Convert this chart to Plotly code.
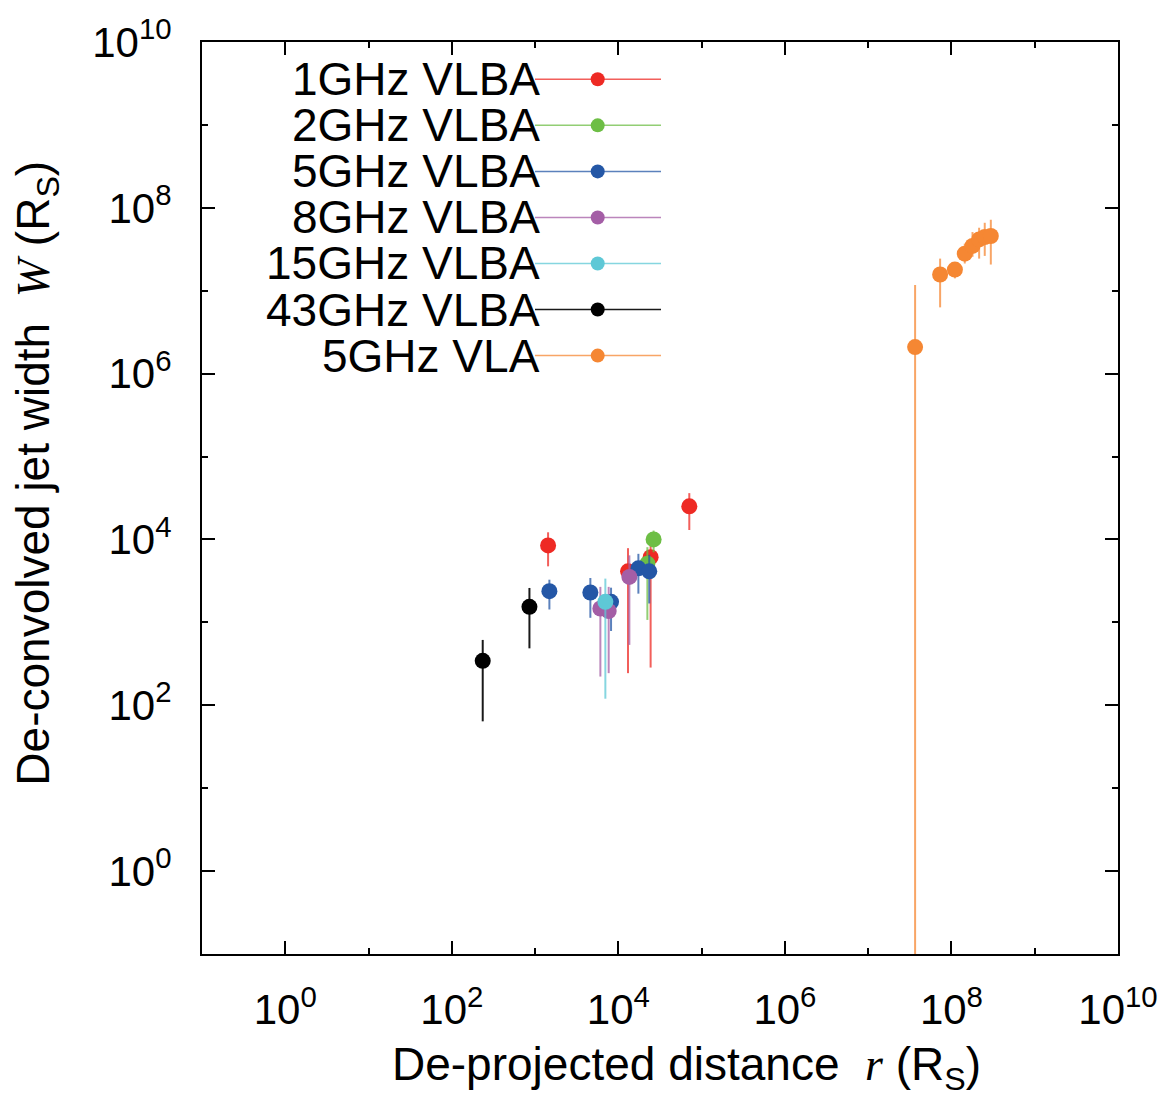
import plotly.graph_objects as go

# ---------------- data ----------------
series_names = ["1GHz VLBA", "2GHz VLBA", "5GHz VLBA", "8GHz VLBA",
                "15GHz VLBA", "43GHz VLBA", "5GHz VLA"]
series_colors = ["#EE2A24", "#6DBE45", "#2457A6", "#A45EA6",
                 "#5EC8D6", "#000000", "#F58733"]
errbar_colors = ["rgba(238,42,36,0.75)", "rgba(109,190,69,0.75)", "rgba(36,87,166,0.75)",
                 "rgba(164,94,166,0.75)", "rgba(94,200,214,0.75)", "rgba(0,0,0,0.9)",
                 "rgba(245,135,51,0.75)"]

# 1 GHz VLBA
r_1ghz = [1432, 13060, 24400, 71100]
w_1ghz = [8470, 4130, 6120, 25100]
w_1ghz_hi = [12200, 7850, 8470, 36200]
w_1ghz_lo = [4740, 244, 285, 13000]

# 2 GHz VLBA
r_2ghz = [22300, 26500]
w_2ghz = [5090, 10000]
w_2ghz_hi = [8070, 12800]
w_2ghz_lo = [1070, 7000]

# 5 GHz VLBA
r_5ghz = [1485, 4610, 8170, 17400, 23500]
w_5ghz = [2380, 2290, 1770, 4490, 4130]
w_5ghz_hi = [3270, 3430, 2620, 6710, 6530]
w_5ghz_lo = [1430, 1135, 787, 2220, 1690]

# 8 GHz VLBA
r_8ghz = [6080, 7650, 13550]
w_8ghz = [1470, 1370, 3530]
w_8ghz_hi = [2680, 2680, 6430]
w_8ghz_lo = [222, 244, 535]

# 15 GHz VLBA
r_15ghz = [6980]
w_15ghz = [1770]
w_15ghz_hi = [3370]
w_15ghz_lo = [120]

# 43 GHz VLBA
r_43ghz = [235, 855]
w_43ghz = [344, 1540]
w_43ghz_hi = [614, 2600]
w_43ghz_lo = [64, 486]

# 5 GHz VLA
r_vla = [3.66e7, 7.31e7, 1.10e8, 1.445e8, 1.79e8, 2.15e8, 2.51e8, 2.97e8]
w_vla = [2.09e6, 1.57e7, 1.80e7, 2.80e7, 3.47e7, 4.16e7, 4.45e7, 4.57e7]
w_vla_hi = [1.17e7, 2.44e7, 2.09e7, 3.70e7, 5.10e7, 5.75e7, 6.60e7, 7.18e7]
w_vla_lo = [1e-3, 6.3e6, 1.41e7, 2.13e7, 2.57e7, 2.44e7, 2.63e7, 2.07e7]

major_vals = [1e0, 1e2, 1e4, 1e6, 1e8, 1e10]
major_text = ["10<sup>0</sup>", "10<sup>2</sup>", "10<sup>4</sup>",
              "10<sup>6</sup>", "10<sup>8</sup>", "10<sup>10</sup>"]
minor_vals = [1e1, 1e3, 1e5, 1e7, 1e9]

all_series = [
    (r_1ghz, w_1ghz, w_1ghz_hi, w_1ghz_lo),
    (r_2ghz, w_2ghz, w_2ghz_hi, w_2ghz_lo),
    (r_5ghz, w_5ghz, w_5ghz_hi, w_5ghz_lo),
    (r_8ghz, w_8ghz, w_8ghz_hi, w_8ghz_lo),
    (r_15ghz, w_15ghz, w_15ghz_hi, w_15ghz_lo),
    (r_43ghz, w_43ghz, w_43ghz_hi, w_43ghz_lo),
    (r_vla, w_vla, w_vla_hi, w_vla_lo),
]

FONT = "Liberation Sans, Arial, sans-serif"
fig = go.Figure()

for name, col, ecol, (xs, ys, hi, lo) in zip(series_names, series_colors, errbar_colors, all_series):
    fig.add_trace(go.Scatter(
        x=xs, y=ys, mode="markers", name=name, showlegend=False,
        marker=dict(color=col, size=16, line=dict(width=0)),
        error_y=dict(type="data", symmetric=False,
                     array=[h - v for h, v in zip(hi, ys)],
                     arrayminus=[v - l for v, l in zip(ys, lo)],
                     color=ecol, thickness=2, width=0),
    ))

# ---------------- hand-built legend (text left, line+marker right) ----------------
W_PX, H_PX = 1172, 1097
L, R, T, B = 202, 54, 37, 143
pw, ph = W_PX - L - R, H_PX - T - B

def px_x(p):
    return (p - L) / pw

def px_y(p):
    return 1 - (p - T) / ph

row0, rowstep = 74.5, 46.3
for i, (name, col, ecol) in enumerate(zip(series_names, series_colors, errbar_colors)):
    yy = px_y(row0 + i * rowstep)
    fig.add_trace(go.Scatter(
        x=[px_x(535), px_x(661)], y=[yy, yy], mode="lines",
        line=dict(color=ecol, width=1.5), xaxis="x2", yaxis="y2",
        showlegend=False, hoverinfo="skip"))
    fig.add_trace(go.Scatter(
        x=[px_x(597.7)], y=[yy], mode="markers",
        marker=dict(color=col, size=14), xaxis="x2", yaxis="y2",
        showlegend=False, hoverinfo="skip"))
    fig.add_annotation(x=px_x(541.5), y=yy, xref="paper", yref="paper",
                       text=name, showarrow=False, xanchor="right", yanchor="middle",
                       font=dict(family=FONT, size=46, color="black"))

# axis titles
fig.add_annotation(
    x=px_x(686), y=px_y(1068), xref="paper", yref="paper", showarrow=False,
    xanchor="center", yanchor="middle",
    text="De-projected distance  <span style=\"font-family:'Liberation Serif'\"><i>r</i></span> (R<sub>S</sub>)",
    font=dict(family=FONT, size=46, color="black"))
fig.add_annotation(
    x=px_x(37), y=px_y(471), xref="paper", yref="paper", showarrow=False,
    xanchor="center", yanchor="middle", textangle=-90,
    text="De-convolved jet width  <span style=\"font-family:'Liberation Serif'\"><i>W</i></span> (R<sub>S</sub>)",
    font=dict(family=FONT, size=46, color="black"))

axis_common = dict(
    type="log", range=[-1, 10], showgrid=False, zeroline=False,
    showline=True, linecolor="black", linewidth=2, mirror="ticks",
    ticks="inside", ticklen=13, tickwidth=2, tickcolor="black",
    tickvals=major_vals, ticktext=major_text,
    minor=dict(tickvals=minor_vals, ticks="inside", ticklen=6, tickwidth=2, tickcolor="black"),
    tickfont=dict(family=FONT, size=42, color="black"),
)

fig.update_layout(
    width=W_PX, height=H_PX,
    margin=dict(l=L, r=R, t=T, b=B, pad=0),
    paper_bgcolor="white", plot_bgcolor="white",
    xaxis=dict(**axis_common, ticklabelstandoff=18),
    yaxis=dict(**axis_common, ticklabelstandoff=20),
    xaxis2=dict(overlaying="x", range=[0, 1], visible=False, anchor="y2"),
    yaxis2=dict(overlaying="y", range=[0, 1], visible=False, anchor="x2"),
    showlegend=False,
)

fig.write_html("out.html")
